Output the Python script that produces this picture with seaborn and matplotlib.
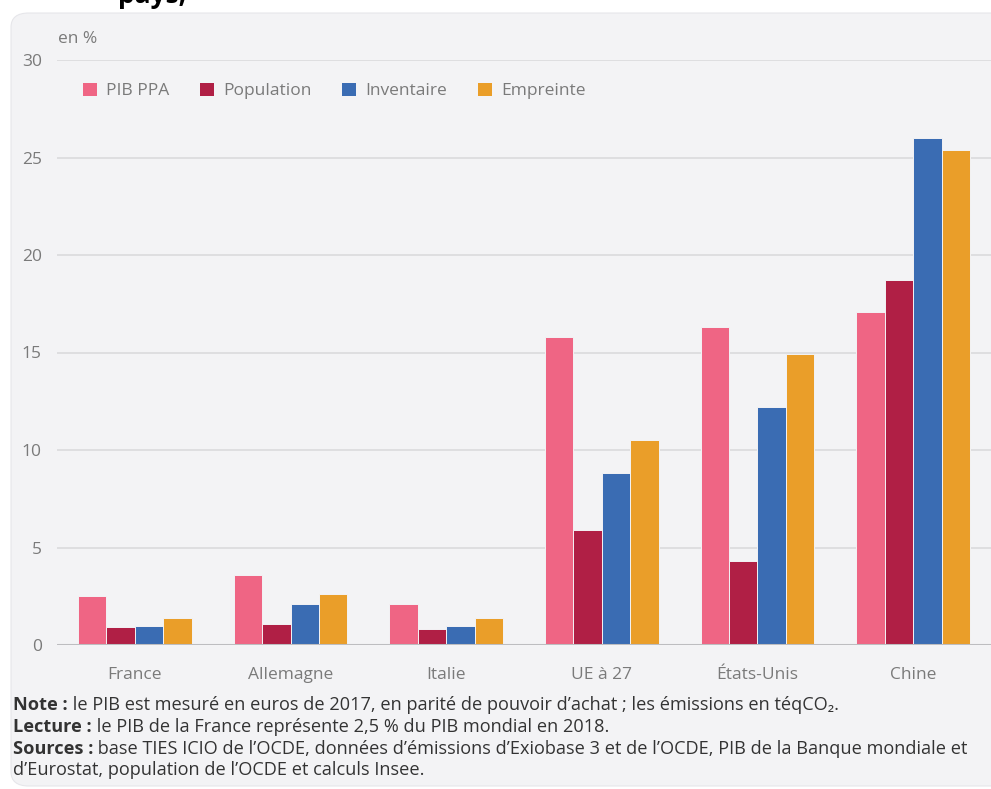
import matplotlib
matplotlib.use("Agg")
import matplotlib.pyplot as plt
import seaborn as sns
import pandas as pd
from matplotlib.patches import FancyBboxPatch, Patch

# Shares of world totals, in %
categories = ["France", "Allemagne", "Italie", "UE à 27", "États-Unis", "Chine"]
series = ["PIB PPA", "Population", "Inventaire", "Empreinte"]
pib_ppa = [2.5, 3.6, 2.1, 15.8, 16.3, 17.1]
population = [0.9, 1.1, 0.8, 5.9, 4.3, 18.7]
inventaire = [1.0, 2.1, 1.0, 8.8, 12.2, 26.0]
empreinte = [1.4, 2.6, 1.4, 10.5, 14.9, 25.4]
yticks = [0, 5, 10, 15, 20, 25, 30]

colors = ["#ef6584", "#b01f45", "#3a6cb3", "#ea9e29"]
panel_color = "#f3f3f5"
grid_color = "#dedee0"
label_gray = "#7a7a7a"
text_dark = "#333333"

df = pd.DataFrame({
    "pays": categories * 4,
    "serie": [s for s in series for _ in categories],
    "valeur": pib_ppa + population + inventaire + empreinte,
})

sns.set_theme(style="white")
plt.rcParams["font.family"] = ["Open Sans", "DejaVu Sans"]

W, H = 991, 789
fig = plt.figure(figsize=(W / 100, H / 100), dpi=100)
fig.patch.set_facecolor("white")

# Rounded light panel behind the chart
panel = FancyBboxPatch((11 / W, 1 - 786 / H), (W + 30 - 11) / W, (786 - 13) / H,
                       boxstyle="round,pad=0,rounding_size=0.018",
                       transform=fig.transFigure, facecolor=panel_color,
                       edgecolor="#e6e6ea", linewidth=0.8, zorder=-5)
fig.patches.append(panel)

# Clipped heading above the panel
fig.text(118 / W, 1 - 3 / H, "pays,", fontsize=19, fontweight="bold",
         color="black", ha="left", va="baseline")

ax_left, ax_right = 57, 991
ax_top, ax_bottom = 60, 645
ax = fig.add_axes([ax_left / W, 1 - ax_bottom / H,
                   (ax_right - ax_left) / W, (ax_bottom - ax_top) / H])
ax.set_facecolor("none")
ax.set_zorder(2)

sns.barplot(data=df, x="pays", y="valeur", hue="serie", order=categories,
            hue_order=series, palette=colors, saturation=1, width=0.73, ax=ax,
            edgecolor=panel_color, linewidth=0.7, legend=False, zorder=3)

ax.set_xlim(-0.5, 5.5)
ax.set_ylim(0, 30)
ax.set_yticks(yticks)
ax.set_yticklabels([str(t) for t in yticks])
for t in yticks[1:]:
    ax.axhline(t, color=grid_color, linewidth=1.4, zorder=1)
ax.axhline(0, color="#bdbdc0", linewidth=2.2, zorder=4)

for s in ax.spines.values():
    s.set_visible(False)
ax.tick_params(axis="both", length=0, colors=label_gray, labelsize=12.5)
ax.tick_params(axis="y", pad=11)
ax.tick_params(axis="x", pad=16)
ax.set_xlabel("")
ax.set_ylabel("")

fig.text(58 / W, 1 - 39 / H, "en %", fontsize=12.5, color=label_gray,
         ha="left", va="center")

handles = [Patch(facecolor=c, edgecolor="none") for c in colors]
ax.legend(handles, series, ncol=4, frameon=False,
          loc="center left", bbox_to_anchor=((83 - ax_left) / (ax_right - ax_left),
                                             1 - (91 - ax_top) / (ax_bottom - ax_top)),
          handlelength=0.8, handleheight=0.8, handletextpad=0.55,
          columnspacing=1.75, borderaxespad=0, borderpad=0,
          labelcolor=label_gray, fontsize=12.5)

# Notes under the chart
notes = [
    ("Note :", " le PIB est mesuré en euros de 2017, en parité de pouvoir d’achat ; les émissions en téqCO₂."),
    ("Lecture :", " le PIB de la France représente 2,5 % du PIB mondial en 2018."),
    ("Sources :", " base TIES ICIO de l’OCDE, données d’émissions d’Exiobase 3 et de l’OCDE, PIB de la Banque mondiale et"),
    ("", "d’Eurostat, population de l’OCDE et calculs Insee."),
]
fig.canvas.draw()
renderer = fig.canvas.get_renderer()
y0 = 705
fs_note = 13.05
for i, (bold, rest) in enumerate(notes):
    y = 1 - (y0 + i * 21.8) / H
    x = 13 / W
    if bold:
        tb = fig.text(x, y, bold, fontsize=fs_note, fontweight="bold",
                      color=text_dark, ha="left", va="center")
        bb = tb.get_window_extent(renderer=renderer)
        x = bb.x1 / W
    fig.text(x, y, rest, fontsize=fs_note, color=text_dark, ha="left", va="center")

fig.savefig("out.png", dpi=100, facecolor="white")
